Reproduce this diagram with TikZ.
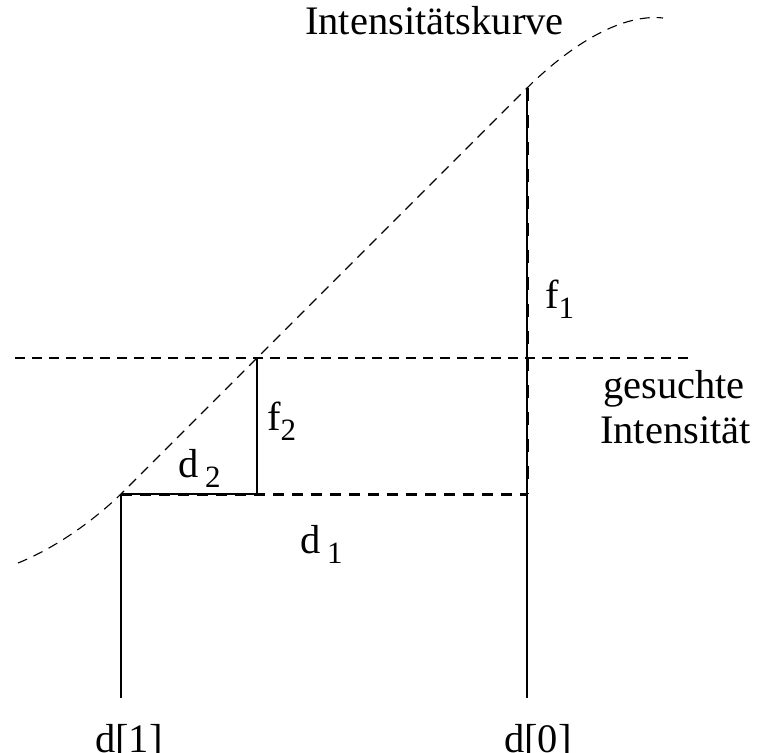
\documentclass[tikz,border=0pt]{standalone}
\usepackage{fontspec}
\setmainfont{Liberation Serif}
\newcommand\lbsub[1]{\raisebox{-10pt}{\fontsize{31}{31}\selectfont #1}}
\begin{document}
\begin{tikzpicture}[x=1pt,y=-1pt,
  thinline/.style={line width=1.1pt},
  thindash/.style={line width=1.1pt,dash pattern=on 10pt off 7pt},
  thickdashh/.style={line width=3pt,dash pattern=on 11pt off 8pt},
  thickdashv/.style={line width=3pt,dash pattern=on 13pt off 14pt},
  lbl/.style={anchor=base west,inner sep=0pt,font=\fontsize{40.5}{47}\selectfont}]
\useasboundingbox (0,0) rectangle (760,752);
% key points
\coordinate (c0) at (18,563);
\coordinate (p1) at (121,494);
\coordinate (p2) at (257,358);
\coordinate (p0) at (527,88);
\coordinate (c3) at (663,18);
\coordinate (q1) at (257,494);
\coordinate (q0) at (527,494);
\coordinate (b1) at (121,698);
\coordinate (b0) at (527,698);
\coordinate (hl) at (15,358);
\coordinate (hr) at (695,358);
% curve
\draw[thindash] (c0) .. controls (55,548) and (92,522) .. (p1)
   -- (p0) .. controls (580,36) and (628,14) .. (c3);
% target intensity line
\draw[thindash] (hl) -- (hr);
% solid lines
\draw[thinline] (p2) -- (q1);
\draw[thinline] (p1) -- (q1);
\draw[thinline] (p1) -- (b1);
\draw[thinline] (p0) -- (b0);
% thick dashed
\draw[thickdashh] (p1) -- (q0);
\draw[thickdashv] (p0) -- (q0);
% labels
\node[lbl] (title) at (305,35) {Intensitätskurve};
\node[lbl] (f1) at (545,308) {f\lbsub{1}};
\node[lbl] (f2) at (267,430) {f\lbsub{2}};
\node[lbl] (d2) at (178,477) {d\,\lbsub{2}};
\node[lbl] (d1) at (300,553) {d\,\lbsub{1}};
\node[lbl] (gs) at (603,398) {gesuchte};
\node[lbl] (in) at (600,443) {Intensität};
\node[lbl] (dd1) at (95,752) {d[1]};
\node[lbl] (dd0) at (504,752) {d[0]};
\end{tikzpicture}
\end{document}
